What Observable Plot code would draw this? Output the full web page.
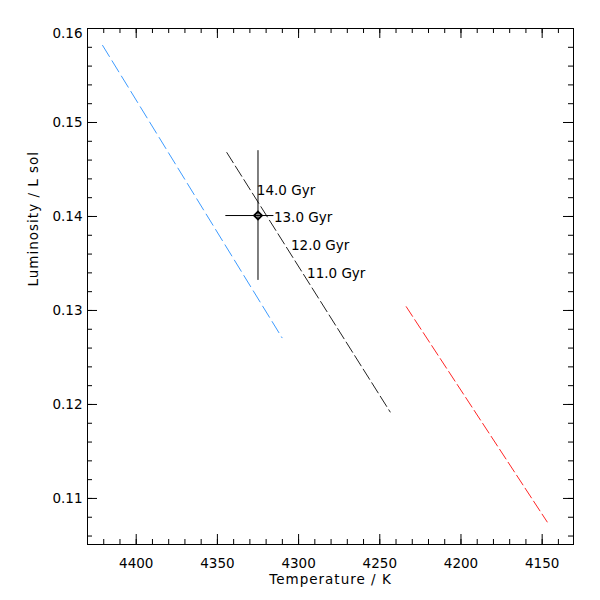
<!DOCTYPE html>
<html><head><meta charset="utf-8">
<script src="https://cdn.jsdelivr.net/npm/d3@7"></script>
<script src="https://cdn.jsdelivr.net/npm/@observablehq/plot@0.6"></script>
<style>body{margin:0;background:#fff} #chart{width:600px;height:600px}</style>
</head><body><div id="chart"></div>
<script>
// Axis domains and ticks
const xDomain = [4430, 4130.7];
const yDomain = [0.1051, 0.16];
const xMajorTicks = [4400, 4350, 4300, 4250, 4200, 4150];
const xMinorTicks = d3.range(4140, 4431, 10);
const yMajorTicks = [0.11, 0.12, 0.13, 0.14, 0.15];
const yTopTick = [0.16];
const yMinorTicks = d3.range(0.106, 0.1601, 0.002);
const xTitle = "Temperature / K";
const yTitle = "Luminosity / L sol";

// Isochrone tracks (dashed lines)
const blueTemp = [4420.7, 4310.2];
const blueLum = [0.1582, 0.1271];
const blackTemp = [4344.2, 4243.6];
const blackLum = [0.1468, 0.1192];
const redTemp = [4233.7, 4146.9];
const redLum = [0.1304, 0.1075];

// Observed star with error bars
const starTemp = [4325];
const starLum = [0.1401];
const starTempLo = [4344.8];
const starTempHi = [4315.2];
const starLumLo = [0.1332];
const starLumHi = [0.1470];

// Age labels
const ageLabels = ["14.0 Gyr", "13.0 Gyr", "12.0 Gyr", "11.0 Gyr"];
const ageTemp = [4325.7, 4315.2, 4304.7, 4294.8];
const ageLum = [0.1423, 0.1394, 0.1364, 0.1335];

const W = 600, H = 600, mL = 87, mR = 27, mT = 28, mB = 56;
const innerW = W - mL - mR, innerH = H - mT - mB;
const font = "DejaVu Sans";

const tickMarks = (len, minorLen) => [
  Plot.tickX(xMajorTicks, {x: d => d, insetTop: innerH - len, stroke: "#000"}),
  Plot.tickX(xMinorTicks, {x: d => d, insetTop: innerH - minorLen, stroke: "#000"}),
  Plot.tickX(xMajorTicks, {x: d => d, insetBottom: innerH - len, stroke: "#000"}),
  Plot.tickX(xMinorTicks, {x: d => d, insetBottom: innerH - minorLen, stroke: "#000"}),
  Plot.tickY([...yMajorTicks, ...yTopTick], {y: d => d, insetRight: innerW - len, stroke: "#000"}),
  Plot.tickY(yMinorTicks, {y: d => d, insetRight: innerW - minorLen, stroke: "#000"}),
  Plot.tickY([...yMajorTicks, ...yTopTick], {y: d => d, insetLeft: innerW - len, stroke: "#000"}),
  Plot.tickY(yMinorTicks, {y: d => d, insetLeft: innerW - minorLen, stroke: "#000"})
];

const chart = Plot.plot({
  width: W, height: H,
  marginLeft: mL, marginRight: mR, marginTop: mT, marginBottom: mB,
  style: {fontFamily: font, fontSize: "13.5px", background: "#fff", color: "#000"},
  x: {domain: xDomain, label: null},
  y: {domain: yDomain, label: null},
  marks: [
    Plot.axisX({ticks: xMajorTicks, tickSize: 0, tickPadding: 14, tickFormat: d => String(d), label: null}),
    Plot.axisY({ticks: yMajorTicks, tickSize: 0, tickPadding: 5, tickFormat: d => d.toFixed(2), label: null}),
    Plot.axisY({ticks: yTopTick, tickSize: 0, tickPadding: 5, dy: 5, tickFormat: d => d.toFixed(2), label: null}),
    Plot.frame({stroke: "#000", strokeWidth: 1}),
    ...tickMarks(10, 5),
    Plot.line(blueTemp, {x: d => d, y: (d, i) => blueLum[i], stroke: "#3d9bff", strokeWidth: 1, strokeDasharray: "13,5"}),
    Plot.line(blackTemp, {x: d => d, y: (d, i) => blackLum[i], stroke: "#222", strokeWidth: 1, strokeDasharray: "12,4"}),
    Plot.line(redTemp, {x: d => d, y: (d, i) => redLum[i], stroke: "#ff2525", strokeWidth: 1, strokeDasharray: "11.5,4"}),
    Plot.ruleX(starTemp, {x: d => d, y1: starLumLo, y2: starLumHi, stroke: "#000", strokeWidth: 1}),
    Plot.ruleY(starLum, {y: d => d, x1: starTempLo, x2: starTempHi, stroke: "#000", strokeWidth: 1}),
    Plot.dot(starTemp, {x: d => d, y: (d, i) => starLum[i], symbol: "diamond2", r: 3.5, stroke: "#000", strokeWidth: 2, fill: "none"}),
    Plot.text(ageLabels, {x: (d, i) => ageTemp[i], y: (d, i) => ageLum[i], text: d => d, textAnchor: "start", lineAnchor: "bottom", fill: "#000", fontSize: 13.5}),
    Plot.text([xTitle], {frameAnchor: "bottom", dy: 39, lineAnchor: "bottom", text: d => d, fill: "#000", fontSize: 13.5}),
    Plot.text([yTitle], {frameAnchor: "left", dx: -54, rotate: -90, text: d => d, fill: "#000", fontSize: 13.5})
  ]
});
d3.select(chart).selectAll("text")
  .filter(function() { const t = this.textContent; return t === xTitle || t === yTitle; })
  .style("letter-spacing", "1px");
document.getElementById("chart").appendChild(chart);
</script>
</body></html>
